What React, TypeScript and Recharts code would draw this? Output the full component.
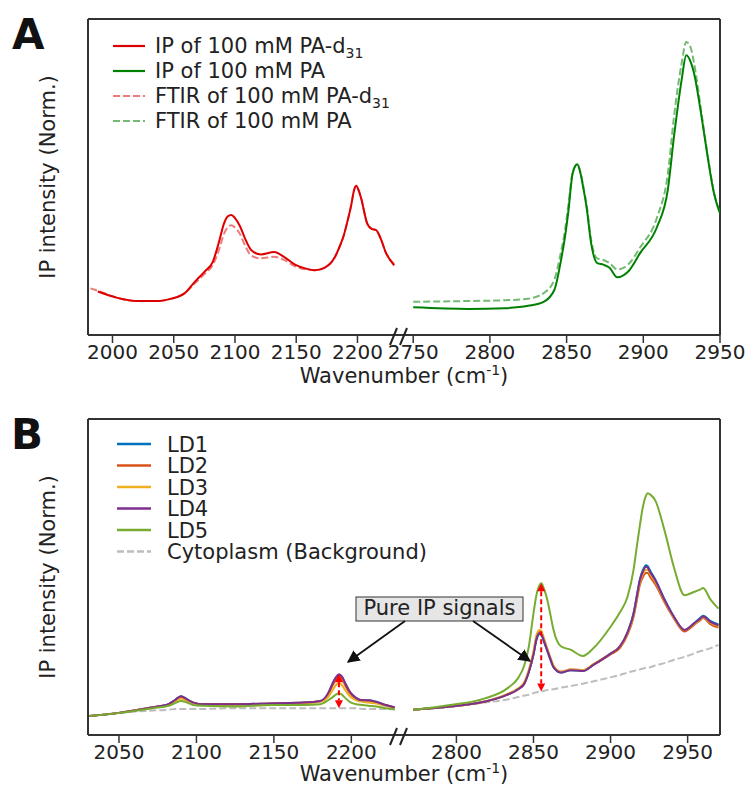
import React from 'react';
import { LineChart, Line, XAxis, YAxis, ReferenceLine, Legend } from 'recharts';

// ---- Panel A, low-wavenumber side (C–D stretch region), cm-1
const aLowX = [1982, 1988, 2004, 2020, 2037, 2048, 2059, 2067, 2075, 2082, 2087, 2091, 2094, 2097, 2100, 2104, 2108, 2113, 2121, 2132, 2140, 2149, 2158, 2165, 2173, 2181, 2186, 2189, 2192, 2195, 2197, 2199, 2201, 2203, 2208, 2212, 2215, 2219, 2223, 2230];
const ipD31 = [null, 0.55, 0.47, 0.43, 0.43, 0.46, 0.53, 0.67, 0.8, 0.93, 1.18, 1.41, 1.5, 1.52, 1.48, 1.38, 1.23, 1.08, 1.02, 1.05, 0.99, 0.89, 0.84, 0.82, 0.85, 0.97, 1.14, 1.27, 1.45, 1.65, 1.82, 1.89, 1.83, 1.73, 1.41, 1.34, 1.33, 1.22, 1.05, 0.88];
const ftirD31 = [0.59, 0.56, 0.47, 0.43, 0.43, 0.46, 0.53, 0.65, 0.77, 0.89, 1.08, 1.28, 1.36, 1.39, 1.36, 1.28, 1.14, 1.01, 0.97, 0.99, 0.95, 0.87, 0.83, 0.82, 0.85, 0.97, 1.14, 1.27, 1.45, 1.65, 1.82, 1.89, 1.83, 1.73, 1.41, 1.34, 1.33, 1.22, 1.05, 0.9];

// ---- Panel A, high-wavenumber side (C–H stretch region)
const aHighX = [2750, 2786, 2810, 2825, 2835, 2842, 2846, 2849, 2851, 2854, 2857, 2859, 2861, 2863, 2866, 2870, 2874, 2878, 2883, 2890, 2898, 2909, 2916, 2920, 2925, 2928, 2931, 2933, 2938, 2942, 2946, 2950];
const ipPA = [0.35, 0.33, 0.34, 0.37, 0.42, 0.57, 0.91, 1.25, 1.54, 2.05, 2.16, 2.05, 1.85, 1.62, 1.16, 0.91, 0.89, 0.85, 0.73, 0.8, 1.04, 1.37, 1.84, 2.51, 3.23, 3.54, 3.45, 3.32, 2.76, 2.25, 1.8, 1.54];
const ftirPA = [0.42, 0.43, 0.44, 0.46, 0.53, 0.7, 1.02, 1.33, 1.62, 2.06, 2.16, 2.06, 1.87, 1.65, 1.2, 0.97, 0.95, 0.91, 0.83, 0.89, 1.11, 1.49, 2.04, 2.76, 3.44, 3.71, 3.63, 3.45, 2.8, 2.27, 1.81, 1.54];

// ---- Panel B, low side
const bLowX = [2031, 2050, 2072, 2082, 2086, 2090, 2094, 2098, 2104, 2125, 2149, 2170, 2180, 2185, 2188, 2190, 2192, 2194, 2196, 2199, 2203, 2207, 2211, 2216, 2222, 2228];
const ld1Low = [0.24, 0.28, 0.35, 0.39, 0.44, 0.49, 0.45, 0.41, 0.39, 0.39, 0.4, 0.41, 0.43, 0.52, 0.65, 0.72, 0.76, 0.73, 0.65, 0.54, 0.47, 0.44, 0.44, 0.42, 0.38, 0.35];
const ld2Low = [0.24, 0.28, 0.35, 0.39, 0.43, 0.48, 0.44, 0.41, 0.39, 0.39, 0.4, 0.41, 0.43, 0.51, 0.63, 0.7, 0.74, 0.71, 0.63, 0.53, 0.46, 0.44, 0.43, 0.41, 0.38, 0.35];
const ld3Low = [0.24, 0.28, 0.35, 0.38, 0.42, 0.46, 0.43, 0.4, 0.38, 0.38, 0.39, 0.4, 0.42, 0.48, 0.57, 0.63, 0.66, 0.63, 0.57, 0.49, 0.44, 0.42, 0.41, 0.4, 0.37, 0.34];
const ld4Low = [0.24, 0.28, 0.35, 0.39, 0.44, 0.49, 0.45, 0.41, 0.39, 0.39, 0.4, 0.41, 0.43, 0.53, 0.66, 0.73, 0.77, 0.74, 0.66, 0.55, 0.47, 0.44, 0.44, 0.42, 0.38, 0.35];
const ld5Low = [0.24, 0.28, 0.34, 0.37, 0.4, 0.43, 0.41, 0.38, 0.37, 0.36, 0.38, 0.38, 0.39, 0.44, 0.48, 0.51, 0.53, 0.51, 0.47, 0.42, 0.39, 0.38, 0.37, 0.36, 0.34, 0.33];
const cytoLow = [0.24, 0.28, 0.31, 0.32, 0.33, 0.33, 0.33, 0.33, 0.33, 0.34, 0.34, 0.34, 0.34, 0.34, 0.34, 0.34, 0.34, 0.34, 0.34, 0.34, 0.34, 0.33, 0.33, 0.33, 0.33, 0.32];

// ---- Panel B, high side
const bHighX = [2772, 2796, 2818, 2833, 2840, 2844, 2847, 2850, 2852, 2854, 2855, 2857, 2859, 2861, 2863, 2868, 2874, 2882, 2889, 2900, 2906, 2911, 2915, 2917, 2919, 2921, 2923, 2924, 2926, 2929, 2935, 2941, 2948, 2954, 2958, 2960, 2965, 2970];
const ld1High = [0.32, 0.36, 0.42, 0.51, 0.58, 0.65, 0.8, 1.02, 1.21, 1.28, 1.27, 1.17, 1.06, 0.95, 0.86, 0.79, 0.82, 0.81, 0.89, 1.03, 1.12, 1.3, 1.55, 1.76, 1.97, 2.09, 2.15, 2.14, 2.07, 1.97, 1.72, 1.5, 1.33, 1.41, 1.48, 1.51, 1.44, 1.4];
const ld2High = [0.32, 0.36, 0.42, 0.51, 0.58, 0.65, 0.8, 1.03, 1.24, 1.31, 1.3, 1.2, 1.08, 0.97, 0.87, 0.8, 0.83, 0.82, 0.89, 1.02, 1.1, 1.27, 1.5, 1.7, 1.9, 2.0, 2.05, 2.05, 1.99, 1.91, 1.68, 1.48, 1.31, 1.39, 1.45, 1.48, 1.4, 1.36];
const ld3High = [0.32, 0.36, 0.42, 0.52, 0.59, 0.67, 0.83, 1.06, 1.27, 1.33, 1.32, 1.21, 1.09, 0.98, 0.88, 0.8, 0.83, 0.82, 0.9, 1.03, 1.12, 1.29, 1.52, 1.73, 1.93, 2.04, 2.09, 2.09, 2.03, 1.94, 1.7, 1.49, 1.33, 1.4, 1.46, 1.49, 1.42, 1.38];
const ld4High = [0.32, 0.36, 0.42, 0.51, 0.58, 0.65, 0.8, 1.02, 1.22, 1.29, 1.28, 1.18, 1.07, 0.96, 0.86, 0.79, 0.82, 0.81, 0.89, 1.03, 1.12, 1.3, 1.54, 1.75, 1.96, 2.07, 2.13, 2.12, 2.05, 1.96, 1.71, 1.5, 1.33, 1.41, 1.47, 1.5, 1.43, 1.39];
const ld5High = [0.32, 0.38, 0.46, 0.59, 0.72, 0.88, 1.12, 1.54, 1.78, 1.9, 1.92, 1.84, 1.71, 1.52, 1.33, 1.12, 1.08, 1.0, 1.1, 1.37, 1.55, 1.75, 2.1, 2.38, 2.65, 2.89, 3.03, 3.06, 3.04, 2.97, 2.59, 2.13, 1.77, 1.81, 1.84, 1.86, 1.71, 1.6];
const cytoHigh = [0.32, 0.36, 0.41, 0.45, 0.48, 0.5, 0.51, 0.53, 0.54, 0.55, 0.55, 0.56, 0.57, 0.58, 0.58, 0.6, 0.62, 0.65, 0.68, 0.73, 0.76, 0.79, 0.81, 0.82, 0.83, 0.84, 0.85, 0.85, 0.86, 0.88, 0.91, 0.95, 0.99, 1.03, 1.06, 1.07, 1.1, 1.14];

// axis ticks / limits
const aLowTicks = [2000, 2050, 2100, 2150, 2200];
const aHighTicks = [2750, 2800, 2850, 2900, 2950];
const bLowTicks = [2050, 2100, 2150, 2200];
const bHighTicks = [2800, 2850, 2900, 2950];
const yTicks = [0, 1, 2, 3, 4];
const aLowDomain = [1980, 2238];
const aHighDomain = [2744, 2950];
const bLowDomain = [2030, 2234];
const bHighDomain = [2766, 2971];

const zip = (xs: number[], cols: Record<string, (number | null)[]>) =>
  xs.map((wn, i) => {
    const row: Record<string, number | null> = { wn };
    for (const k of Object.keys(cols)) row[k] = cols[k][i];
    return row;
  });

const aLowData = zip(aLowX, { ip: ipD31, ftir: ftirD31 });
const aHighData = zip(aHighX, { ip: ipPA, ftir: ftirPA });
const bLowData = zip(bLowX, { ld1: ld1Low, ld2: ld2Low, ld3: ld3Low, ld4: ld4Low, ld5: ld5Low, cyto: cytoLow });
const bHighData = zip(bHighX, { ld1: ld1High, ld2: ld2High, ld3: ld3High, ld4: ld4High, ld5: ld5High, cyto: cytoHigh });

const FONT = 'DejaVu Sans, Verdana, sans-serif';
const SPINE = '#333';
const RED = '#dd0000';
const RED_LIGHT = '#ef7b7b';
const GREEN = '#008000';
const GREEN_LIGHT = '#74ba74';
const GRAY = '#bdbdbd';
const TXT = 21;

const ldSeries = [
  { key: 'ld1', name: 'LD1', color: '#0072BD' },
  { key: 'ld2', name: 'LD2', color: '#D95319' },
  { key: 'ld3', name: 'LD3', color: '#EDB120' },
  { key: 'ld4', name: 'LD4', color: '#7E2F8E' },
  { key: 'ld5', name: 'LD5', color: '#77AC30' },
];

const legendA = [
  { name: 'IP of 100 mM PA-d', sub: '31', color: RED, dash: undefined },
  { name: 'IP of 100 mM PA', sub: '', color: GREEN, dash: undefined },
  { name: 'FTIR of 100 mM PA-d', sub: '31', color: RED_LIGHT, dash: '7 3' },
  { name: 'FTIR of 100 mM PA', sub: '', color: GREEN_LIGHT, dash: '7 3' },
];

const legendB = [
  ...ldSeries.map((s) => ({ name: s.name, color: s.color, dash: undefined as string | undefined })),
  { name: 'Cytoplasm (Background)', color: GRAY, dash: '7 3' },
];

const tickStyle = { fontSize: 20, fill: '#222', fontFamily: FONT };
const chartH = 380;
const plotTop = 19;
const plotW = 316;
const rightPad = 40; // room left of the right-hand segment for its first tick label

// red dashed double-headed arrow used to mark the pure IP signal height
function DoubleArrow(props: any) {
  const { x1, y1, y2 } = props;
  const top = Math.min(y1, y2);
  const bot = Math.max(y1, y2);
  const h = 8;
  const w = 4;
  return (
    <g>
      <line x1={x1} x2={x1} y1={top + h} y2={bot - h} stroke="#ff0000" strokeWidth={2} strokeDasharray="5 3" />
      <polygon points={`${x1},${top} ${x1 - w},${top + h} ${x1 + w},${top + h}`} fill="#ff0000" />
      <polygon points={`${x1},${bot} ${x1 - w},${bot - h} ${x1 + w},${bot - h}`} fill="#ff0000" />
    </g>
  );
}

function LegendA() {
  return (
    <svg width={440} height={140} style={{ overflow: 'visible' }}>
      {legendA.map((s, i) => {
        const y = 46 + i * 25;
        return (
          <g key={i}>
            <line x1={113} x2={145} y1={y} y2={y} stroke={s.color} strokeWidth={2.2} strokeDasharray={s.dash} />
            <text x={155} y={y + 7} fontSize={TXT} fontFamily={FONT} fill="#222">
              {s.name}
              {s.sub && (
                <tspan fontSize={14} dy={5}>
                  {s.sub}
                </tspan>
              )}
            </text>
          </g>
        );
      })}
    </svg>
  );
}

function LegendB() {
  return (
    <svg width={440} height={170} style={{ overflow: 'visible' }}>
      {legendB.map((s, i) => {
        const y = 44 + i * 21.5;
        return (
          <g key={i}>
            <line x1={117} x2={151} y1={y} y2={y} stroke={s.color} strokeWidth={2.5} strokeDasharray={s.dash} />
            <text x={167} y={y + 7.5} fontSize={TXT} fontFamily={FONT} fill="#222">
              {s.name}
            </text>
          </g>
        );
      })}
    </svg>
  );
}

const axisLine = { stroke: SPINE, strokeWidth: 2 };
const tickLine = { stroke: SPINE, strokeWidth: 1.5 };

export default function App() {
  return (
    <div style={{ position: 'absolute', left: 0, top: 0, width: 747, height: 786, background: '#fff', fontFamily: FONT }}>
      {/* Panel A, left segment */}
      <div style={{ position: 'absolute', left: 0, top: 0 }}>
        <LineChart width={88 + plotW} height={chartH} data={aLowData} margin={{ top: plotTop, right: 0, left: 0, bottom: 0 }}>
          <XAxis dataKey="wn" type="number" domain={aLowDomain} allowDataOverflow ticks={aLowTicks} interval={0} height={45} tickSize={8} tickMargin={2} axisLine={axisLine} tickLine={tickLine} tick={tickStyle} />
          <YAxis domain={[0, 4]} ticks={yTicks} allowDataOverflow width={88} tick={false} tickSize={9} axisLine={axisLine} tickLine={tickLine} />
          <ReferenceLine y={4} stroke={SPINE} strokeWidth={2} />
          <Line dataKey="ftir" type="monotone" stroke={RED_LIGHT} strokeWidth={2} strokeDasharray="7 3" dot={false} isAnimationActive={false} />
          <Line dataKey="ip" type="monotone" stroke={RED} strokeWidth={2} dot={false} isAnimationActive={false} />
          <Legend layout="vertical" align="center" verticalAlign="middle" wrapperStyle={{ left: 0, top: 0, width: 440, height: 140 }} content={() => <LegendA />} />
        </LineChart>
      </div>
      {/* Panel A, right segment */}
      <div style={{ position: 'absolute', left: 404 - rightPad, top: 0 }}>
        <LineChart width={rightPad + plotW + 27} height={chartH} data={aHighData} margin={{ top: plotTop, right: 27, left: rightPad, bottom: 0 }}>
          <XAxis dataKey="wn" type="number" domain={aHighDomain} allowDataOverflow ticks={aHighTicks} interval={0} height={45} tickSize={8} tickMargin={2} axisLine={axisLine} tickLine={tickLine} tick={tickStyle} />
          <YAxis hide domain={[0, 4]} allowDataOverflow />
          <ReferenceLine y={4} stroke={SPINE} strokeWidth={2} />
          <ReferenceLine x={aHighDomain[1]} stroke={SPINE} strokeWidth={2} />
          <Line dataKey="ftir" type="monotone" stroke={GREEN_LIGHT} strokeWidth={2} strokeDasharray="7 3" dot={false} isAnimationActive={false} />
          <Line dataKey="ip" type="monotone" stroke={GREEN} strokeWidth={2} dot={false} isAnimationActive={false} />
        </LineChart>
      </div>

      {/* Panel B, left segment */}
      <div style={{ position: 'absolute', left: 0, top: 400 }}>
        <LineChart width={88 + plotW} height={chartH} data={bLowData} margin={{ top: plotTop, right: 0, left: 0, bottom: 0 }}>
          <XAxis dataKey="wn" type="number" domain={bLowDomain} allowDataOverflow ticks={bLowTicks} interval={0} height={45} tickSize={8} tickMargin={2} axisLine={axisLine} tickLine={tickLine} tick={tickStyle} />
          <YAxis domain={[0, 4]} ticks={yTicks} allowDataOverflow width={88} tick={false} tickSize={9} axisLine={axisLine} tickLine={tickLine} />
          <ReferenceLine y={4} stroke={SPINE} strokeWidth={2} />
          <Line dataKey="cyto" type="monotone" stroke={GRAY} strokeWidth={2} strokeDasharray="7 3" dot={false} isAnimationActive={false} />
          {ldSeries.map((s) => (
            <Line key={s.key} dataKey={s.key} type="monotone" stroke={s.color} strokeWidth={2} dot={false} isAnimationActive={false} />
          ))}
          <ReferenceLine segment={[{ x: 2192, y: ld4Low[16] }, { x: 2192, y: cytoLow[16] }]} shape={DoubleArrow} />
          <Legend layout="vertical" align="center" verticalAlign="middle" wrapperStyle={{ left: 0, top: 0, width: 440, height: 170 }} content={() => <LegendB />} />
        </LineChart>
      </div>
      {/* Panel B, right segment */}
      <div style={{ position: 'absolute', left: 404 - rightPad, top: 400 }}>
        <LineChart width={rightPad + plotW + 27} height={chartH} data={bHighData} margin={{ top: plotTop, right: 27, left: rightPad, bottom: 0 }}>
          <XAxis dataKey="wn" type="number" domain={bHighDomain} allowDataOverflow ticks={bHighTicks} interval={0} height={45} tickSize={8} tickMargin={2} axisLine={axisLine} tickLine={tickLine} tick={tickStyle} />
          <YAxis hide domain={[0, 4]} allowDataOverflow />
          <ReferenceLine y={4} stroke={SPINE} strokeWidth={2} />
          <ReferenceLine x={bHighDomain[1]} stroke={SPINE} strokeWidth={2} />
          <Line dataKey="cyto" type="monotone" stroke={GRAY} strokeWidth={2} strokeDasharray="7 3" dot={false} isAnimationActive={false} />
          {ldSeries.map((s) => (
            <Line key={s.key} dataKey={s.key} type="monotone" stroke={s.color} strokeWidth={2} dot={false} isAnimationActive={false} />
          ))}
          <ReferenceLine segment={[{ x: 2855, y: ld5High[10] }, { x: 2855, y: cytoHigh[10] }]} shape={DoubleArrow} />
        </LineChart>
      </div>

      {/* panel letters, axis titles, break marks and the callout */}
      <svg width={747} height={786} style={{ position: 'absolute', left: 0, top: 0, pointerEvents: 'none' }} fontFamily={FONT}>
        <defs>
          <marker id="head" viewBox="0 0 10 10" refX="9" refY="5" markerWidth="7" markerHeight="7" orient="auto">
            <path d="M0,0 L10,5 L0,10 z" fill="#111" />
          </marker>
        </defs>
        <text x={12} y={49} fontSize={42} fontWeight="bold" fill="#111">A</text>
        <text x={11} y={449} fontSize={42} fontWeight="bold" fill="#111">B</text>

        {[177, 577].map((cy) => (
          <text key={cy} x={55} y={cy} fontSize={TXT} fill="#222" textAnchor="middle" transform={`rotate(-90 55 ${cy})`}>
            IP intensity (Norm.)
          </text>
        ))}
        {[383, 781].map((by) => (
          <text key={by} x={404} y={by} fontSize={TXT} fill="#222" textAnchor="middle">
            Wavenumber (cm
            <tspan fontSize={14} dy={-8}>-1</tspan>
            <tspan dy={8}>)</tspan>
          </text>
        ))}

        {[335, 735].map((by) => (
          <g key={by} stroke="#222" strokeWidth={2}>
            <line x1={390} y1={by + 10} x2={397} y2={by - 7} />
            <line x1={400} y1={by + 10} x2={407} y2={by - 7} />
          </g>
        ))}

        <rect x={356} y={597} width={167} height={24} fill="#e6e6e6" stroke="#333" strokeWidth={1} />
        <text x={439.5} y={615} fontSize={TXT} fill="#222" textAnchor="middle">Pure IP signals</text>
        <line x1={405} y1={621} x2={348} y2={662} stroke="#111" strokeWidth={1.8} markerEnd="url(#head)" />
        <line x1={473} y1={621} x2={530} y2={661} stroke="#111" strokeWidth={1.8} markerEnd="url(#head)" />
      </svg>
    </div>
  );
}
